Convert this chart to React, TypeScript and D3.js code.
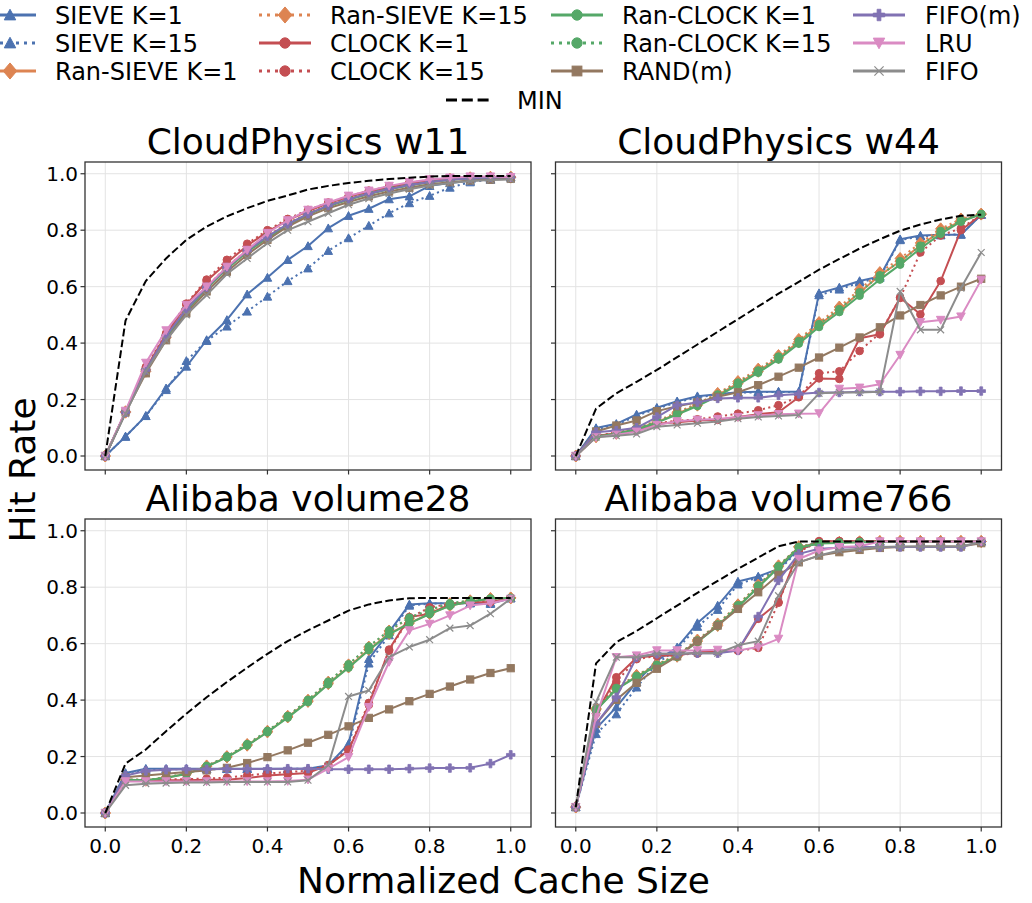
import React from "react";
import * as d3 from "d3";

// ---------- data ----------
const XS = [0, 0.05, 0.1, 0.15, 0.2, 0.25, 0.3, 0.35, 0.4, 0.45, 0.5, 0.55, 0.6, 0.65, 0.7, 0.75, 0.8, 0.85, 0.9, 0.95, 1.0];
const X_TICKS = [0, 0.2, 0.4, 0.6, 0.8, 1.0];
const Y_TICKS = [0, 0.2, 0.4, 0.6, 0.8, 1.0];

const SERIES = ["SIEVE K=1", "SIEVE K=15", "Ran-SIEVE K=1", "Ran-SIEVE K=15", "CLOCK K=1", "CLOCK K=15", "Ran-CLOCK K=1", "Ran-CLOCK K=15", "RAND(m)", "FIFO(m)", "LRU", "FIFO"];
const COLORS = ["#4C72B0", "#4C72B0", "#DD8452", "#DD8452", "#C44E52", "#C44E52", "#55A868", "#55A868", "#937860", "#8172B3", "#DA8BC3", "#8C8C8C"];
const MARKERS = ["^", "^", "D", "D", "o", "o", "o", "o", "s", "P", "v", "x"];
const DOTTED = [false, true, false, true, false, true, false, true, false, false, false, false];

const TITLES = ["CloudPhysics w11", "CloudPhysics w44", "Alibaba volume28", "Alibaba volume766"];

// CloudPhysics w11
const A_sieve1 = [0, 0.069, 0.142, 0.24, 0.317, 0.411, 0.482, 0.573, 0.632, 0.695, 0.744, 0.807, 0.851, 0.876, 0.91, 0.92, 0.957, 0.967, 0.975, 0.981, 0.987];
const A_sieve15 = [0, 0.069, 0.142, 0.234, 0.337, 0.408, 0.459, 0.512, 0.565, 0.62, 0.665, 0.727, 0.772, 0.816, 0.86, 0.896, 0.922, 0.951, 0.97, 0.979, 0.987];
const A_ransieve1 = [0, 0.155, 0.3, 0.42, 0.515, 0.595, 0.665, 0.725, 0.775, 0.82, 0.857, 0.887, 0.91, 0.93, 0.947, 0.96, 0.972, 0.98, 0.985, 0.987, 0.988];
const A_ransieve15 = [0, 0.157, 0.305, 0.425, 0.52, 0.6, 0.67, 0.73, 0.78, 0.825, 0.86, 0.89, 0.913, 0.933, 0.95, 0.963, 0.974, 0.981, 0.986, 0.988, 0.988];
const A_clock1 = [0, 0.155, 0.31, 0.43, 0.535, 0.62, 0.685, 0.745, 0.795, 0.835, 0.868, 0.895, 0.918, 0.937, 0.953, 0.966, 0.976, 0.983, 0.986, 0.988, 0.988];
const A_clock15 = [0, 0.157, 0.315, 0.435, 0.54, 0.625, 0.695, 0.752, 0.8, 0.84, 0.872, 0.898, 0.92, 0.94, 0.955, 0.968, 0.978, 0.984, 0.987, 0.988, 0.988];
const A_ranclock1 = [0, 0.155, 0.3, 0.42, 0.513, 0.593, 0.663, 0.723, 0.773, 0.818, 0.855, 0.885, 0.908, 0.928, 0.945, 0.958, 0.97, 0.978, 0.984, 0.987, 0.988];
const A_ranclock15 = [0, 0.156, 0.302, 0.423, 0.517, 0.597, 0.667, 0.727, 0.777, 0.822, 0.858, 0.888, 0.911, 0.931, 0.948, 0.961, 0.972, 0.98, 0.985, 0.987, 0.988];
const A_rand = [0, 0.155, 0.293, 0.41, 0.506, 0.583, 0.653, 0.713, 0.766, 0.813, 0.849, 0.878, 0.9, 0.92, 0.937, 0.95, 0.963, 0.97, 0.976, 0.979, 0.982];
const A_fifom = [0, 0.155, 0.305, 0.425, 0.52, 0.598, 0.668, 0.728, 0.778, 0.822, 0.858, 0.887, 0.91, 0.93, 0.946, 0.96, 0.971, 0.979, 0.984, 0.987, 0.988];
const A_lru = [0, 0.16, 0.33, 0.445, 0.535, 0.6, 0.67, 0.73, 0.79, 0.835, 0.872, 0.898, 0.922, 0.94, 0.957, 0.97, 0.98, 0.986, 0.99, 0.99, 0.988];
const A_fifo = [0, 0.15, 0.3, 0.41, 0.5, 0.57, 0.645, 0.7, 0.754, 0.8, 0.83, 0.86, 0.89, 0.912, 0.93, 0.945, 0.958, 0.967, 0.974, 0.978, 0.98];
const A_min = [0, 0.48, 0.62, 0.7, 0.766, 0.813, 0.849, 0.878, 0.904, 0.923, 0.944, 0.957, 0.967, 0.975, 0.981, 0.986, 0.99, 0.992, 0.992, 0.992, 0.992];

// CloudPhysics w44
const B_sieve1 = [0, 0.099, 0.114, 0.147, 0.171, 0.194, 0.212, 0.219, 0.226, 0.228, 0.228, 0.228, 0.577, 0.597, 0.62, 0.636, 0.768, 0.781, 0.784, 0.784, 0.855];
const B_sieve15 = [0, 0.095, 0.11, 0.142, 0.168, 0.19, 0.208, 0.217, 0.224, 0.226, 0.227, 0.227, 0.57, 0.59, 0.615, 0.632, 0.765, 0.778, 0.782, 0.786, 0.855];
const B_ransieve1 = [0, 0.068, 0.08, 0.096, 0.12, 0.15, 0.18, 0.216, 0.257, 0.3, 0.348, 0.405, 0.465, 0.518, 0.579, 0.64, 0.69, 0.746, 0.796, 0.833, 0.857];
const B_ransieve15 = [0, 0.07, 0.082, 0.1, 0.124, 0.155, 0.186, 0.222, 0.264, 0.308, 0.356, 0.413, 0.473, 0.528, 0.59, 0.65, 0.7, 0.755, 0.805, 0.84, 0.857];
const B_clock1 = [0, 0.072, 0.08, 0.09, 0.114, 0.12, 0.126, 0.128, 0.138, 0.148, 0.155, 0.208, 0.275, 0.273, 0.417, 0.431, 0.561, 0.502, 0.62, 0.8, 0.855];
const B_clock15 = [0, 0.072, 0.082, 0.094, 0.116, 0.125, 0.13, 0.14, 0.15, 0.162, 0.18, 0.21, 0.293, 0.3, 0.372, 0.435, 0.56, 0.721, 0.781, 0.807, 0.855];
const B_ranclock1 = [0, 0.068, 0.079, 0.094, 0.118, 0.147, 0.177, 0.212, 0.252, 0.295, 0.342, 0.398, 0.457, 0.51, 0.568, 0.625, 0.678, 0.735, 0.787, 0.83, 0.857];
const B_ranclock15 = [0, 0.069, 0.08, 0.097, 0.121, 0.151, 0.182, 0.218, 0.26, 0.303, 0.352, 0.407, 0.467, 0.52, 0.58, 0.64, 0.69, 0.745, 0.797, 0.835, 0.857];
const B_rand = [0, 0.087, 0.108, 0.126, 0.159, 0.176, 0.19, 0.21, 0.226, 0.251, 0.281, 0.313, 0.349, 0.384, 0.42, 0.456, 0.498, 0.535, 0.569, 0.6, 0.628];
const B_fifom = [0, 0.084, 0.09, 0.1, 0.138, 0.18, 0.19, 0.204, 0.206, 0.206, 0.215, 0.22, 0.225, 0.225, 0.228, 0.228, 0.228, 0.229, 0.229, 0.23, 0.23];
const B_lru = [0, 0.066, 0.075, 0.086, 0.11, 0.123, 0.128, 0.131, 0.138, 0.144, 0.148, 0.15, 0.151, 0.238, 0.242, 0.254, 0.358, 0.474, 0.482, 0.494, 0.624];
const B_fifo = [0, 0.066, 0.072, 0.078, 0.104, 0.11, 0.116, 0.122, 0.132, 0.138, 0.142, 0.145, 0.222, 0.225, 0.225, 0.228, 0.583, 0.447, 0.447, 0.595, 0.721];
const B_min = [0, 0.168, 0.222, 0.263, 0.305, 0.35, 0.395, 0.44, 0.485, 0.53, 0.575, 0.617, 0.66, 0.698, 0.735, 0.768, 0.798, 0.82, 0.838, 0.851, 0.855];

// Alibaba volume28
const C_sieve1 = [0, 0.142, 0.157, 0.157, 0.157, 0.157, 0.157, 0.157, 0.157, 0.157, 0.157, 0.169, 0.245, 0.546, 0.641, 0.739, 0.743, 0.743, 0.743, 0.741, 0.761];
const C_sieve15 = [0, 0.135, 0.152, 0.155, 0.155, 0.155, 0.156, 0.156, 0.156, 0.156, 0.157, 0.165, 0.235, 0.53, 0.63, 0.735, 0.742, 0.742, 0.744, 0.745, 0.761];
const C_ransieve1 = [0, 0.118, 0.116, 0.125, 0.139, 0.165, 0.198, 0.24, 0.287, 0.34, 0.395, 0.458, 0.517, 0.579, 0.635, 0.673, 0.706, 0.735, 0.749, 0.759, 0.762];
const C_ransieve15 = [0, 0.118, 0.117, 0.126, 0.14, 0.167, 0.2, 0.243, 0.29, 0.343, 0.4, 0.464, 0.525, 0.588, 0.645, 0.69, 0.718, 0.742, 0.752, 0.76, 0.762];
const C_clock1 = [0, 0.116, 0.116, 0.116, 0.116, 0.118, 0.118, 0.124, 0.133, 0.137, 0.142, 0.169, 0.222, 0.383, 0.579, 0.694, 0.706, 0.739, 0.747, 0.747, 0.761];
const C_clock15 = [0, 0.118, 0.118, 0.12, 0.12, 0.122, 0.125, 0.133, 0.14, 0.145, 0.15, 0.17, 0.225, 0.39, 0.575, 0.69, 0.729, 0.74, 0.748, 0.75, 0.761];
const C_ranclock1 = [0, 0.118, 0.116, 0.125, 0.138, 0.164, 0.197, 0.239, 0.286, 0.338, 0.393, 0.456, 0.515, 0.577, 0.633, 0.672, 0.705, 0.734, 0.749, 0.759, 0.762];
const C_ranclock15 = [0, 0.118, 0.117, 0.126, 0.14, 0.167, 0.201, 0.244, 0.291, 0.344, 0.401, 0.465, 0.527, 0.59, 0.647, 0.692, 0.72, 0.743, 0.753, 0.76, 0.762];
const C_rand = [0, 0.127, 0.133, 0.139, 0.145, 0.151, 0.16, 0.177, 0.198, 0.222, 0.249, 0.277, 0.307, 0.337, 0.367, 0.396, 0.422, 0.448, 0.473, 0.496, 0.513];
const C_fifom = [0, 0.133, 0.149, 0.153, 0.155, 0.155, 0.156, 0.156, 0.156, 0.157, 0.157, 0.155, 0.155, 0.155, 0.155, 0.157, 0.159, 0.159, 0.16, 0.175, 0.206];
const C_lru = [0, 0.112, 0.112, 0.112, 0.112, 0.112, 0.112, 0.112, 0.112, 0.113, 0.118, 0.157, 0.198, 0.375, 0.535, 0.647, 0.67, 0.7, 0.735, 0.743, 0.759];
const C_fifo = [0, 0.098, 0.104, 0.106, 0.108, 0.108, 0.11, 0.11, 0.11, 0.11, 0.116, 0.169, 0.413, 0.434, 0.552, 0.588, 0.614, 0.655, 0.664, 0.706, 0.759];
const C_min = [0, 0.175, 0.225, 0.29, 0.352, 0.41, 0.464, 0.515, 0.564, 0.609, 0.647, 0.682, 0.717, 0.739, 0.753, 0.761, 0.762, 0.762, 0.762, 0.762, 0.762];

// Alibaba volume766
const D_sieve1 = [0.021, 0.299, 0.375, 0.464, 0.54, 0.587, 0.673, 0.735, 0.82, 0.838, 0.865, 0.936, 0.962, 0.962, 0.962, 0.962, 0.962, 0.962, 0.962, 0.962, 0.962];
const D_sieve15 = [0.021, 0.28, 0.35, 0.445, 0.53, 0.58, 0.66, 0.72, 0.81, 0.835, 0.86, 0.93, 0.96, 0.962, 0.962, 0.962, 0.962, 0.962, 0.962, 0.962, 0.962];
const D_ransieve1 = [0.021, 0.366, 0.44, 0.484, 0.523, 0.555, 0.608, 0.664, 0.732, 0.802, 0.873, 0.942, 0.956, 0.958, 0.96, 0.961, 0.962, 0.962, 0.962, 0.962, 0.962];
const D_ransieve15 = [0.021, 0.37, 0.445, 0.488, 0.527, 0.56, 0.613, 0.67, 0.738, 0.808, 0.876, 0.944, 0.957, 0.959, 0.961, 0.962, 0.962, 0.962, 0.962, 0.962, 0.962];
const D_clock1 = [0.021, 0.352, 0.481, 0.55, 0.558, 0.558, 0.57, 0.57, 0.576, 0.688, 0.747, 0.93, 0.963, 0.963, 0.963, 0.963, 0.963, 0.963, 0.963, 0.963, 0.963];
const D_clock15 = [0.021, 0.36, 0.465, 0.545, 0.556, 0.56, 0.565, 0.57, 0.575, 0.585, 0.745, 0.925, 0.962, 0.963, 0.963, 0.963, 0.963, 0.963, 0.963, 0.963, 0.963];
const D_ranclock1 = [0.021, 0.364, 0.438, 0.482, 0.521, 0.553, 0.606, 0.662, 0.73, 0.8, 0.87, 0.94, 0.955, 0.957, 0.959, 0.96, 0.961, 0.962, 0.962, 0.962, 0.962];
const D_ranclock15 = [0.021, 0.368, 0.443, 0.486, 0.525, 0.558, 0.611, 0.668, 0.736, 0.806, 0.875, 0.943, 0.957, 0.959, 0.961, 0.962, 0.962, 0.962, 0.962, 0.962, 0.962];
const D_rand = [0.021, 0.316, 0.401, 0.461, 0.511, 0.555, 0.608, 0.664, 0.723, 0.782, 0.844, 0.888, 0.912, 0.924, 0.932, 0.939, 0.942, 0.944, 0.944, 0.944, 0.956];
const D_fifom = [0.021, 0.316, 0.41, 0.552, 0.564, 0.564, 0.566, 0.566, 0.576, 0.696, 0.824, 0.918, 0.936, 0.94, 0.942, 0.942, 0.942, 0.942, 0.942, 0.942, 0.962];
const D_lru = [0.021, 0.34, 0.552, 0.558, 0.576, 0.576, 0.576, 0.578, 0.576, 0.588, 0.617, 0.9, 0.93, 0.942, 0.945, 0.962, 0.962, 0.962, 0.962, 0.962, 0.962];
const D_fifo = [0.021, 0.393, 0.552, 0.552, 0.564, 0.564, 0.566, 0.566, 0.594, 0.609, 0.77, 0.888, 0.912, 0.93, 0.936, 0.942, 0.944, 0.944, 0.944, 0.944, 0.96];
const D_min = [0.021, 0.53, 0.605, 0.645, 0.69, 0.735, 0.78, 0.822, 0.865, 0.905, 0.945, 0.962, 0.962, 0.962, 0.962, 0.962, 0.962, 0.962, 0.962, 0.962, 0.962];

const PANEL_DATA = [
  [A_sieve1, A_sieve15, A_ransieve1, A_ransieve15, A_clock1, A_clock15, A_ranclock1, A_ranclock15, A_rand, A_fifom, A_lru, A_fifo],
  [B_sieve1, B_sieve15, B_ransieve1, B_ransieve15, B_clock1, B_clock15, B_ranclock1, B_ranclock15, B_rand, B_fifom, B_lru, B_fifo],
  [C_sieve1, C_sieve15, C_ransieve1, C_ransieve15, C_clock1, C_clock15, C_ranclock1, C_ranclock15, C_rand, C_fifom, C_lru, C_fifo],
  [D_sieve1, D_sieve15, D_ransieve1, D_ransieve15, D_clock1, D_clock15, D_ranclock1, D_ranclock15, D_rand, D_fifom, D_lru, D_fifo],
];
const PANEL_MIN = [A_min, B_min, C_min, D_min];

// ---------- layout ----------
const FONT = "DejaVu Sans, sans-serif";
const COLS = [[85, 531], [555.5, 1001.5]];
const ROWS = [[162, 470], [519, 827]];

function Marker({ type, cx, cy, s, color }: any) {
  const h = s / 2;
  if (type === "^")
    return <path d={`M${cx},${cy - h}L${cx - h},${cy + h * 0.85}L${cx + h},${cy + h * 0.85}Z`} fill={color} stroke={color} strokeWidth={1} />;
  if (type === "v")
    return <path d={`M${cx},${cy + h}L${cx - h},${cy - h * 0.85}L${cx + h},${cy - h * 0.85}Z`} fill={color} stroke={color} strokeWidth={1} />;
  if (type === "D") {
    const r = h * 1.4;
    return <path d={`M${cx},${cy - r}L${cx + r * 0.85},${cy}L${cx},${cy + r}L${cx - r * 0.85},${cy}Z`} fill={color} stroke={color} strokeWidth={1} />;
  }
  if (type === "o") return <circle cx={cx} cy={cy} r={h * 0.9} fill={color} stroke={color} strokeWidth={1} />;
  if (type === "s") {
    const a = h * 0.85;
    return <rect x={cx - a} y={cy - a} width={2 * a} height={2 * a} fill={color} stroke={color} strokeWidth={1} />;
  }
  if (type === "P") {
    const a = h, t = h / 3;
    return (
      <path d={`M${cx - t},${cy - a}H${cx + t}V${cy - t}H${cx + a}V${cy + t}H${cx + t}V${cy + a}H${cx - t}V${cy + t}H${cx - a}V${cy - t}H${cx - t}Z`} fill={color} stroke={color} strokeWidth={0.8} />
    );
  }
  const a = h * 0.8;
  return <path d={`M${cx - a},${cy - a}L${cx + a},${cy + a}M${cx - a},${cy + a}L${cx + a},${cy - a}`} stroke={color} strokeWidth={1.2} fill="none" />;
}

function Panel({ idx }: { idx: number }) {
  const col = idx % 2, row = Math.floor(idx / 2);
  const [x0, x1] = COLS[col];
  const [y0, y1] = ROWS[row];
  const xs = d3.scaleLinear().domain([-0.05, 1.05]).range([x0, x1]);
  const ys = d3.scaleLinear().domain([-0.0496, 1.0416]).range([y1, y0]);
  const line = d3.line<number>().x((_, i) => xs(XS[i])).y((d) => ys(d));
  const data = PANEL_DATA[idx];
  const showX = row === 1, showY = col === 0;
  return (
    <g>
      <rect x={x0} y={y0} width={x1 - x0} height={y1 - y0} fill="#fff" />
      {X_TICKS.map((t) => (
        <line key={"gx" + t} x1={xs(t)} x2={xs(t)} y1={y0} y2={y1} stroke="#e3e3e3" strokeWidth={1} />
      ))}
      {Y_TICKS.map((t) => (
        <line key={"gy" + t} x1={x0} x2={x1} y1={ys(t)} y2={ys(t)} stroke="#e3e3e3" strokeWidth={1} />
      ))}
      {data.map((vals, si) => (
        <g key={si}>
          <path d={line(vals) || ""} fill="none" stroke={COLORS[si]} strokeWidth={2}
            strokeDasharray={DOTTED[si] ? "2.1 3.4" : undefined} strokeLinejoin="round" />
          {vals.map((v, i) => (
            <Marker key={i} type={MARKERS[si]} cx={xs(XS[i])} cy={ys(v)} s={8.5} color={COLORS[si]} />
          ))}
        </g>
      ))}
      <path d={line(PANEL_MIN[idx]) || ""} fill="none" stroke="#000" strokeWidth={2} strokeDasharray="7.7 3.3" />
      <rect x={x0} y={y0} width={x1 - x0} height={y1 - y0} fill="none" stroke="#333" strokeWidth={1.3} />
      {X_TICKS.map((t) => (
        <g key={"tx" + t}>
          <line x1={xs(t)} x2={xs(t)} y1={y1} y2={y1 + 4.5} stroke="#333" strokeWidth={1.2} />
          {showX && (
            <text x={xs(t)} y={y1 + 25.5} fontSize={20} textAnchor="middle" fontFamily={FONT} fill="#000">
              {t.toFixed(1)}
            </text>
          )}
        </g>
      ))}
      {Y_TICKS.map((t) => (
        <g key={"ty" + t}>
          <line x1={x0 - 4.5} x2={x0} y1={ys(t)} y2={ys(t)} stroke="#333" strokeWidth={1.2} />
          {showY && (
            <text x={x0 - 7} y={ys(t) + 7.2} fontSize={20} textAnchor="end" fontFamily={FONT} fill="#000">
              {t.toFixed(1)}
            </text>
          )}
        </g>
      ))}
      <text x={(x0 + x1) / 2} y={y0 - 8} fontSize={36} textAnchor="middle" fontFamily={FONT} fill="#000">
        {TITLES[idx]}
      </text>
    </g>
  );
}

const LEG_MARK_X = [10, 285, 577, 879];
const LEG_TEXT_X = [55, 330, 622, 925];
const LEG_ROW_Y = [15, 43, 71];

function Legend() {
  return (
    <g>
      {SERIES.map((name, i) => {
        const c = Math.floor(i / 3), r = i % 3;
        const cx = LEG_MARK_X[c], cy = LEG_ROW_Y[r];
        return (
          <g key={name}>
            <line x1={cx - 26} x2={cx + 26} y1={cy} y2={cy} stroke={COLORS[i]} strokeWidth={3}
              strokeDasharray={DOTTED[i] ? "3 5" : undefined} />
            <Marker type={MARKERS[i]} cx={cx} cy={cy} s={11.5} color={COLORS[i]} />
            <text x={LEG_TEXT_X[c]} y={cy + 8.7} fontSize={24} fontFamily={FONT} fill="#000">
              {name}
            </text>
          </g>
        );
      })}
      <line x1={446} x2={490} y1={100} y2={100} stroke="#000" strokeWidth={3} strokeDasharray="11 4.8" />
      <text x={517} y={108.7} fontSize={24} fontFamily={FONT} fill="#000">MIN</text>
    </g>
  );
}

export default function App() {
  return (
    <svg width={1032} height={903} viewBox="0 0 1032 903" style={{ position: "absolute", left: 0, top: 0, background: "#fff" }}>
      <rect x={0} y={0} width={1032} height={903} fill="#fff" />
      {[0, 1, 2, 3].map((i) => (
        <Panel key={i} idx={i} />
      ))}
      <Legend />
      <text transform="translate(35,470) rotate(-90)" fontSize={36} textAnchor="middle" fontFamily={FONT} fill="#000">
        Hit Rate
      </text>
      <text x={503.5} y={893} fontSize={36} textAnchor="middle" fontFamily={FONT} fill="#000">
        Normalized Cache Size
      </text>
    </svg>
  );
}
